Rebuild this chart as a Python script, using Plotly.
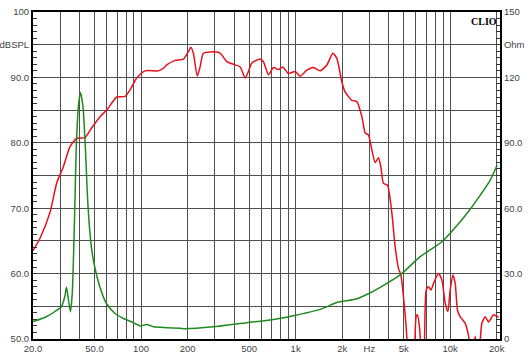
import plotly.graph_objects as go
import math

# SPL response (dBSPL, left axis)
spl_freq = [20, 22.2, 25.8, 28.5, 31.4, 34.7, 38.4, 43.4, 48.0, 54.3, 60.0, 69.6, 78.8, 84.9, 93.8,
            106.2, 129.4, 139.5, 146.6, 166, 188, 202, 210, 218, 231, 241, 253, 280, 324, 359, 396,
            438, 471, 495, 521, 589, 619, 667, 719, 774, 826, 898, 993, 1069, 1182, 1304, 1441,
            1592, 1742, 1848, 1991, 2090, 2312, 2490, 2684, 2819, 2960, 3113, 3270, 3436, 3561,
            3700, 3929, 4195, 4405, 4628, 4797, 4985, 5189, 5428, 5762, 6016, 6137, 6325, 6586,
            6787, 6996, 7240, 7500, 7800, 8400, 8838, 9287, 9663, 10000, 10413, 10776, 11150,
            11610, 12505, 13140, 13680, 14300, 14520, 14890, 15410, 16030, 16850, 17700, 19070, 20550]
spl_db = [63.5, 65.4, 69.4, 73.9, 76.3, 79.4, 80.7, 80.8, 82.3, 84.0, 85.0, 87.0, 87.1, 88.1, 89.9,
          91.0, 91.0, 91.4, 91.9, 92.6, 92.8, 93.9, 94.6, 93.7, 90.2, 91.6, 93.7, 93.9, 93.7, 92.4, 92.0,
          91.6, 89.9, 90.9, 92.2, 92.8, 92.4, 90.4, 91.5, 91.2, 91.6, 90.6, 90.9, 90.2, 91.1, 91.5, 91.0,
          91.9, 93.7, 92.9, 89.3, 87.8, 86.5, 86.3, 84.0, 81.5, 81.2, 78.9, 77.0, 77.7, 76.3,
          73.8, 73.5, 69.2, 64.1, 60.8, 59.8, 56.5, 51.9, 46.0, 45.0, 53.4, 53.7, 51.9, 46.0,
          48.0, 57.5, 58.0, 57.5, 58.5, 60.0, 59.0, 55.5, 54.2, 57.5, 59.8, 58.5, 54.4,
          53.4, 52.4, 50.5, 47.0, 49.0, 50.4, 48.0, 48.5, 52.4, 53.4, 52.6, 53.7, 53.3]

# Impedance (Ohm, right axis)
imp_freq = [20, 24.4, 27.6, 30.5, 32.1, 32.9, 33.7, 34.9, 35.9, 37.2, 38.1, 39.5, 40.5, 42.1, 43.6,
            45.4, 47.7, 50.1, 54.1, 59.6, 67.6, 76.5, 89.2, 98.5, 108.9, 120.2, 146.6, 178.7, 192.7,
            294, 483, 684, 968, 1441, 1848, 2038, 2500, 3000, 3525, 4748, 6396, 8838, 11610,
            13480, 14890, 18160, 20140]
imp_ohm = [8.0, 10.2, 12.5, 14.8, 19.4, 23.7, 19.4, 12.5, 21.0, 57.7, 88.2, 108.1, 113.2, 106.6, 88.2,
           60.7, 42.3, 33.2, 24.0, 16.4, 11.8, 9.5, 7.5, 6.0, 6.7, 5.6, 5.2, 4.9, 4.7,
           5.6, 7.5, 8.7, 10.7, 13.6, 16.7, 17.3, 18.5, 21.0, 23.7, 29.4, 37.8, 44.6, 53.8,
           59.5, 63.8, 72.9, 79.8]

# Axis ticks
x_grid = [20, 30, 40, 50, 60, 70, 80, 90, 100, 200, 300, 400, 500, 600, 700, 800, 900,
          1000, 2000, 3000, 4000, 5000, 6000, 7000, 8000, 9000, 10000, 20000]
x_labels = {20: "20.0", 50: "50.0", 100: "100", 200: "200", 500: "500", 1000: "1k",
            2000: "2k", 3000: "Hz", 5000: "5k", 10000: "10k", 20000: "20k"}
y_vals = [50, 55, 60, 65, 70, 75, 80, 85, 90, 95, 100]
y_text = ["50.0", "", "60.0", "", "70.0", "", "80.0", "", "90.0", "dBSPL", "100"]
y2_vals = [0, 15, 30, 45, 60, 75, 90, 105, 120, 135, 150]
y2_text = ["0", "", "30.0", "", "60.0", "", "90.0", "", "120", "Ohm", "150"]

RED = "#e8101a"
GREEN = "#1f8a1f"
GRID = "#505050"
TXT = "#444444"

fig = go.Figure()
fig.add_trace(go.Scatter(x=imp_freq, y=imp_ohm, yaxis="y2", mode="lines",
                         line=dict(color=GREEN, width=1.5, shape="spline", smoothing=0.6),
                         showlegend=False, hoverinfo="skip"))
fig.add_trace(go.Scatter(x=spl_freq, y=spl_db, mode="lines",
                         line=dict(color=RED, width=1.5, shape="spline", smoothing=0.6),
                         showlegend=False, hoverinfo="skip"))

fig.update_layout(
    width=530, height=364,
    margin=dict(l=33, r=30, t=12, b=25, autoexpand=False),
    paper_bgcolor="white", plot_bgcolor="white",
    font=dict(family="Liberation Sans, Arial, sans-serif", size=9.5, color=TXT),
    xaxis=dict(type="log", range=[math.log10(20), math.log10(21000)],
               tickmode="array", tickvals=x_grid,
               ticktext=[x_labels.get(v, "") for v in x_grid],
               showgrid=True, gridcolor=GRID, gridwidth=1,
               showline=True, linecolor="black", linewidth=2, mirror=True,
               ticks="", zeroline=False, automargin=False),
    yaxis=dict(range=[50, 100], tickmode="array", tickvals=y_vals, ticktext=y_text,
               showgrid=True, gridcolor=GRID, gridwidth=1,
               showline=True, linecolor="black", linewidth=2, mirror=True,
               ticks="inside", ticklen=4, tickcolor="#333", zeroline=False, automargin=False,
               minor=dict(tickmode="linear", tick0=50, dtick=1, ticks="inside",
                          ticklen=4, tickcolor="#333", showgrid=False)),
    yaxis2=dict(range=[0, 150], overlaying="y", side="right",
                tickmode="array", tickvals=y2_vals, ticktext=y2_text,
                showgrid=False, showline=True, linecolor="black", linewidth=2,
                ticks="inside", ticklen=4, tickcolor="#333", zeroline=False, automargin=False,
                minor=dict(tickmode="linear", tick0=0, dtick=3, ticks="inside",
                           ticklen=4, tickcolor="#333", showgrid=False)),
    annotations=[dict(text="<b>CLIO</b>", xref="paper", yref="paper", x=0.997, y=0.995,
                      xanchor="right", yanchor="top", showarrow=False,
                      font=dict(family="Liberation Serif, serif", size=10, color="black"))],
)

fig.write_html("out.html", config={"displayModeBar": False},
               post_script="document.body.style.margin='0';")
